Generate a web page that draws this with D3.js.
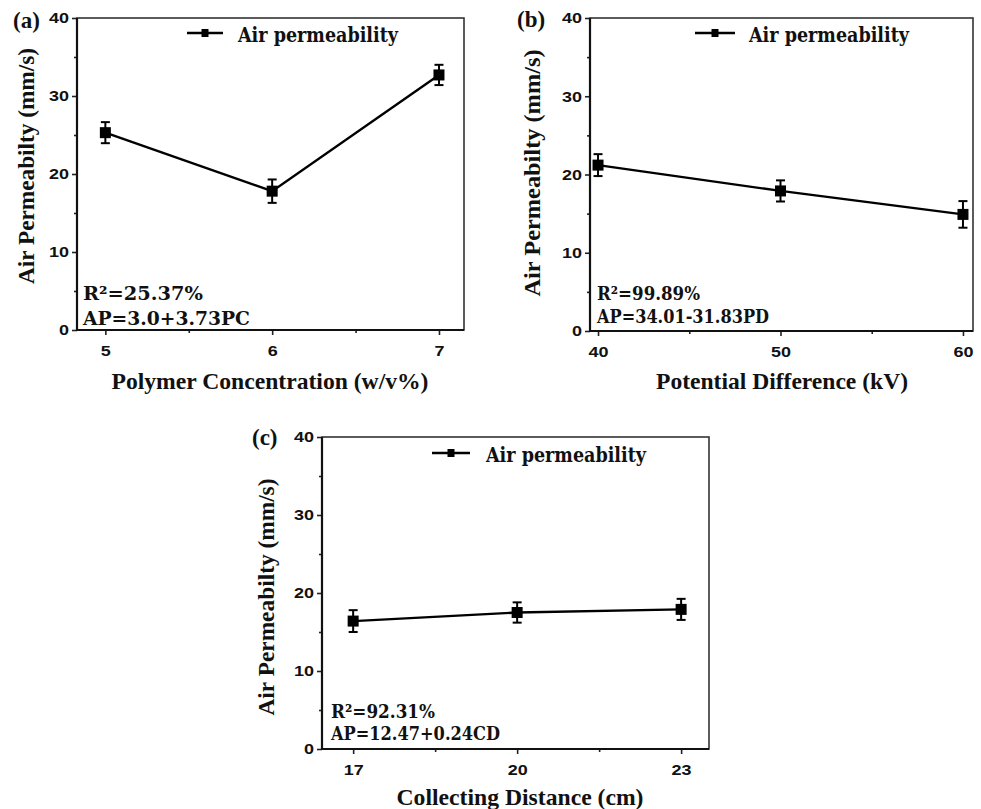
<!DOCTYPE html>
<html>
<head>
<meta charset="utf-8">
<script src="https://cdn.jsdelivr.net/npm/d3@7"></script>
<style>
  body { margin: 0; background: #fff; }
  svg { display: block; }
  .tick text { font-family: "Liberation Sans", Arial, sans-serif; font-weight: bold; font-size: 15px; fill: #111; }
  .tick line { stroke: #222; stroke-width: 1.6px; }
</style>
</head>
<body>
<svg id="chart" width="981" height="809"></svg>
<script>
// data
const xA = [5, 6, 7];
const yA = [25.3, 17.8, 32.7];
const eA = [1.35, 1.5, 1.3];

const xB = [40, 50, 60];
const yB = [21.2, 17.9, 14.9];
const eB = [1.4, 1.35, 1.7];

const xC = [17, 20, 23];
const yC = [16.4, 17.5, 17.9];
const eC = [1.4, 1.3, 1.35];

const yTicks = [0, 10, 20, 30, 40];
const yMinor = [5, 15, 25, 35];
const legendLabel = 'Air permeability';
const yTitle = 'Air Permeabilty (mm/s)';

const panels = [
  { tag: '(a)', xs: xA, ys: yA, es: eA, minor: [5.5, 6.5], xDom: [4.83, 7.15],
    box: { l: 77, r: 464, t: 18, b: 330 }, xTitle: 'Polymer Concentration (w/v%)',
    notes: ['R²=25.37%', 'AP=3.0+3.73PC'],
    lay: { tag: [13, 28], leg: [187, 223, 33, 238], note: [83, 300, 325], noteW: [120, 167],
           yT: [27, 166, 236], xT: [270, 389, 317] } },
  { tag: '(b)', xs: xB, ys: yB, es: eB, minor: [45, 55], xDom: [39.56, 60.55],
    box: { l: 590, r: 973, t: 18, b: 331 }, xTitle: 'Potential Difference (kV)',
    notes: ['R²=99.89%', 'AP=34.01-31.83PD'],
    lay: { tag: [517, 27], leg: [695, 735, 33, 749], note: [597, 300, 323], noteW: [103, 172],
           yT: [533, 173, 247], xT: [782, 389, 252] } },
  { tag: '(c)', xs: xC, ys: yC, es: eC, minor: [18.5, 21.5], xDom: [16.43, 23.51],
    box: { l: 322, r: 709, t: 437, b: 749 }, xTitle: 'Collecting Distance (cm)',
    notes: ['R²=92.31%', 'AP=12.47+0.24CD'],
    lay: { tag: [252, 445], leg: [432, 470, 453, 486], note: [331, 718, 740], noteW: [104, 169],
           yT: [267, 597, 237], xT: [520, 805, 247] } }
];

const svg = d3.select('#chart');

function fitText(sel, w) {
  return sel.attr('textLength', w).attr('lengthAdjust', 'spacingAndGlyphs');
}

// tick labels in the figure are wide: ~10px per digit
function wideTicks(a) {
  a.selectAll('.tick text').each(function () {
    const t = d3.select(this);
    t.attr('textLength', t.text().length * 10).attr('lengthAdjust', 'spacingAndGlyphs');
  });
}

panels.forEach(p => {
  const g = svg.append('g');
  const x = d3.scaleLinear().domain(p.xDom).range([p.box.l, p.box.r]);
  const y = d3.scaleLinear().domain([0, 40]).range([p.box.b, p.box.t]);

  // axes
  g.append('g').attr('transform', `translate(${p.box.l},0)`)
    .call(d3.axisLeft(y).tickValues(yTicks).tickSize(5).tickPadding(3).tickFormat(d3.format('d')))
    .call(a => a.select('.domain').remove())
    .call(wideTicks);
  g.append('g').attr('transform', `translate(${p.box.l},0)`)
    .call(d3.axisLeft(y).tickValues(yMinor).tickSize(3).tickFormat(''))
    .call(a => a.select('.domain').remove());
  g.append('g').attr('transform', `translate(0,${p.box.b})`)
    .call(d3.axisBottom(x).tickValues(p.xs).tickSize(5).tickPadding(10).tickFormat(d3.format('d')))
    .call(a => a.select('.domain').remove())
    .call(wideTicks);
  g.append('g').attr('transform', `translate(0,${p.box.b})`)
    .call(d3.axisBottom(x).tickValues(p.minor).tickSize(3).tickFormat(''))
    .call(a => a.select('.domain').remove());

  // frame: left/bottom heavier like the scan
  g.append('rect')
    .attr('x', p.box.l).attr('y', p.box.t)
    .attr('width', p.box.r - p.box.l).attr('height', p.box.b - p.box.t)
    .attr('fill', 'none').attr('stroke', '#333').attr('stroke-width', 1.6);
  g.append('path')
    .attr('d', `M${p.box.l},${p.box.t}V${p.box.b}H${p.box.r}`)
    .attr('fill', 'none').attr('stroke', '#111').attr('stroke-width', 2.2);

  // series line
  const pts = p.xs.map((v, i) => ({ x: v, y: p.ys[i], e: p.es[i] }));
  g.append('path').datum(pts)
    .attr('fill', 'none').attr('stroke', '#000').attr('stroke-width', 2.4)
    .attr('d', d3.line().x(d => x(d.x)).y(d => y(d.y)));

  // error bars
  const eb = g.append('g').selectAll('g').data(pts).join('g');
  eb.append('line')
    .attr('x1', d => x(d.x)).attr('x2', d => x(d.x))
    .attr('y1', d => y(d.y - d.e)).attr('y2', d => y(d.y + d.e))
    .attr('stroke', '#000').attr('stroke-width', 2);
  [-1, 1].forEach(s => {
    eb.append('line')
      .attr('x1', d => x(d.x) - 4.5).attr('x2', d => x(d.x) + 4.5)
      .attr('y1', d => y(d.y + s * d.e)).attr('y2', d => y(d.y + s * d.e))
      .attr('stroke', '#000').attr('stroke-width', 2);
  });
  eb.append('rect')
    .attr('x', d => x(d.x) - 5.5).attr('y', d => y(d.y) - 5.5)
    .attr('width', 11).attr('height', 11).attr('fill', '#000');

  // legend
  const L = p.lay.leg;
  g.append('line').attr('x1', L[0]).attr('x2', L[1]).attr('y1', L[2]).attr('y2', L[2])
    .attr('stroke', '#000').attr('stroke-width', 2.4);
  g.append('rect').attr('x', (L[0] + L[1]) / 2 - 3.5).attr('y', L[2] - 4)
    .attr('width', 7).attr('height', 8).attr('fill', '#000');
  g.append('text').attr('x', L[3]).attr('y', L[2] + 9)
    .attr('font-family', '"DejaVu Serif", serif').attr('font-weight', 'bold')
    .attr('font-size', 20).attr('fill', '#111')
    .text(legendLabel).call(fitText, 160);

  // annotations
  p.notes.forEach((t, i) => {
    g.append('text').attr('x', p.lay.note[0]).attr('y', p.lay.note[1 + i])
      .attr('font-family', '"DejaVu Serif", serif').attr('font-weight', 'bold')
      .attr('font-size', 19).attr('fill', '#111')
      .text(t).call(fitText, p.lay.noteW[i]);
  });

  // panel tag
  g.append('text').attr('x', p.lay.tag[0]).attr('y', p.lay.tag[1])
    .attr('font-family', '"Liberation Serif", "Times New Roman", serif').attr('font-weight', 'bold')
    .attr('font-size', 23).attr('fill', '#111').text(p.tag);

  // axis titles
  const yT = p.lay.yT;
  g.append('text').attr('transform', `translate(${yT[0] + 7},${yT[1]}) rotate(-90)`)
    .attr('text-anchor', 'middle')
    .attr('font-family', '"Liberation Serif", "Times New Roman", serif').attr('font-weight', 'bold')
    .attr('font-size', 23).attr('fill', '#111')
    .text(yTitle).call(fitText, yT[2]);
  const xT = p.lay.xT;
  g.append('text').attr('x', xT[0]).attr('y', xT[1])
    .attr('text-anchor', 'middle')
    .attr('font-family', '"Liberation Serif", "Times New Roman", serif').attr('font-weight', 'bold')
    .attr('font-size', 24).attr('fill', '#111')
    .text(p.xTitle).call(fitText, xT[2]);
});
</script>
</body>
</html>
